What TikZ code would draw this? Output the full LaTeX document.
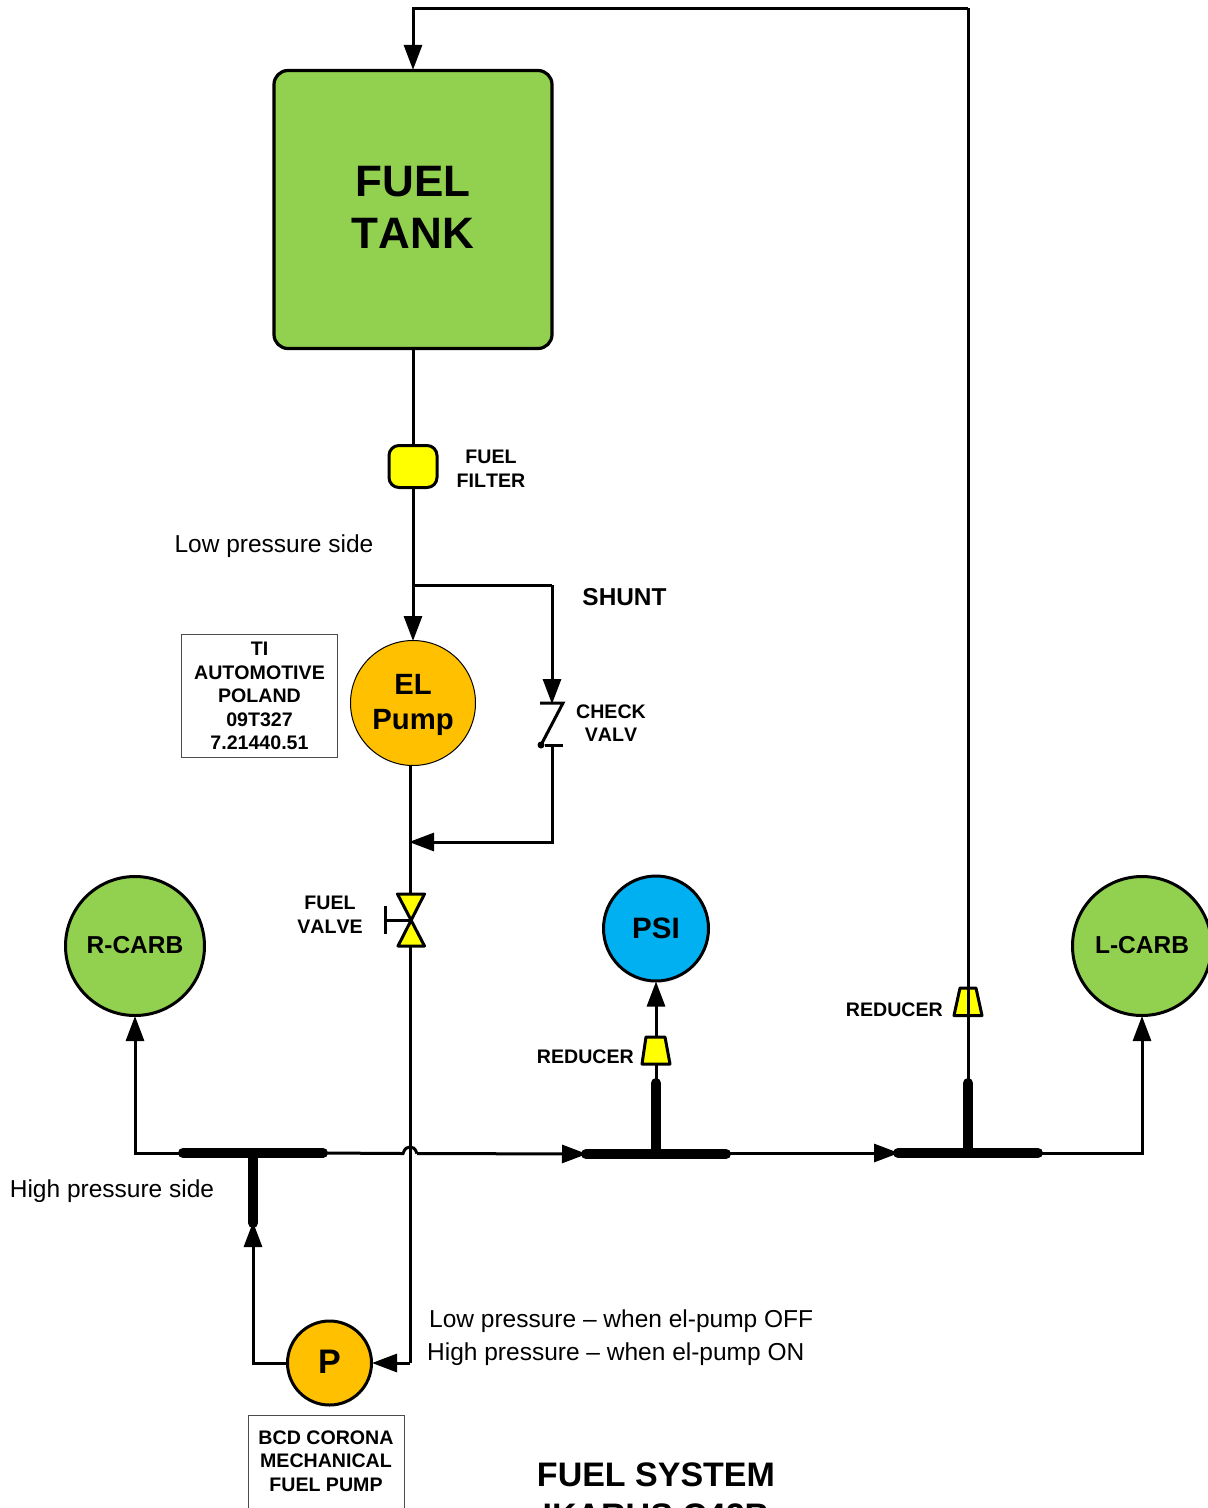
\documentclass[tikz,border=0pt]{standalone}
\usepackage{fontspec}
\setmainfont[Kerning=Off]{Liberation Sans}
\usetikzlibrary{arrows.meta}
\definecolor{fgreen}{HTML}{92D050}
\definecolor{forange}{HTML}{FFC000}
\definecolor{fblue}{HTML}{00B0F0}
\definecolor{fyellow}{HTML}{FFFF00}
\newcommand{\fs}[2]{\fontsize{#1pt}{#2pt}\selectfont}
\tikzset{
  x=1pt,y=-1pt,
  pipe/.style={draw=black,line width=3pt},
  flow/.style={pipe,shorten >=-1pt,-{Triangle[length=25pt,width=18pt]}},
  bus/.style={draw=black,line width=10pt,line cap=round},
  circ/.style={circle,draw=black,inner sep=0pt,align=center,font=\bfseries},
  lab/.style={inner sep=0pt,align=center,font=\bfseries\fs{19.6}{23.5}},
  plain/.style={inner sep=0pt,font=\fs{24.5}{30}},
  infobox/.style={draw=black!70,line width=1pt,fill=white,inner sep=0pt,align=center,font=\bfseries\fs{19.6}{23.4}},
  part/.style={draw=black,line width=3pt,fill=fyellow,line join=round},
}
\begin{document}
\begin{tikzpicture}
\useasboundingbox (0,0) rectangle (1208,1508);
% nodes
\node[draw=black,line width=3.2pt,fill=fgreen,rounded corners=14pt,minimum width=278pt,minimum height=278pt,inner sep=0pt,align=center,font=\bfseries\fs{44}{52}] (tank) at (413,209.5) {FUEL\\TANK\rule[-4pt]{0pt}{4pt}};
\node[draw=black,line width=3pt,fill=fyellow,rounded corners=10pt,minimum width=48pt,minimum height=42pt,inner sep=0pt] (filter) at (413,466.5) {};
\node[lab] (filterlab) at (491,468.5) {FUEL\\FILTER};
\node[plain] (lowside) at (274,546.5) {Low pressure side};
\node[inner sep=0pt,font=\bfseries\fs{24.4}{30}] (shuntlab) at (624.5,597.5) {SHUNT};
\node[circ,line width=1pt,fill=forange,minimum size=125pt,font=\bfseries\fs{29.3}{34.5}] (elpump) at (413,703) {\rule{0pt}{24pt}EL\\Pump};
\node[infobox,minimum width=156pt,minimum height=123pt] (tibox) at (259.5,696) {TI\\AUTOMOTIVE\\POLAND\\09T327\\7.21440.51};
\node[lab] (checklab) at (611,723) {CHECK\\VALV};
\coordinate (shuntT) at (413,585);
\coordinate (shuntC) at (552,585);
\coordinate (chkTop) at (552,703);
\coordinate (chkBot) at (552,745);
\coordinate (join) at (410,842);
\coordinate (joinC) at (552,842);
\coordinate (valveT) at (410,894);
\coordinate (valveB) at (410,946);
\coordinate (topR) at (968,8);
\coordinate (topL) at (413,8);
\node[lab] (valvelab) at (330,914.5) {FUEL\\VALVE};
\node[circ,line width=3pt,fill=fgreen,minimum size=139pt,font=\bfseries\fs{24.5}{30}] (rcarb) at (135,946) {\raisebox{1.5pt}{R-CARB}};
\node[circ,line width=3pt,fill=fgreen,minimum size=139pt,font=\bfseries\fs{24.5}{30}] (lcarb) at (1142,946) {\raisebox{1.5pt}{L-CARB}};
\node[circ,line width=3pt,fill=fblue,minimum size=105pt,font=\bfseries\fs{29.5}{34}] (psi) at (656,928.5) {PSI};
\node[circ,line width=3pt,fill=forange,minimum size=84pt,font=\bfseries\fs{34}{40}] (ppump) at (329.5,1363) {\raisebox{2pt}{P}};
\node[infobox,anchor=north,minimum width=156pt,minimum height=120pt] (bcd) at (326,1415) {};
\node[lab] (bcdlab) at (326,1461) {BCD CORONA\\MECHANICAL\\FUEL PUMP};
\node[plain] (highside) at (112,1191.5) {High pressure side};
\node[plain,anchor=west] (lowwhen) at (429,1321) {Low pressure -- when el-pump OFF};
\node[plain,anchor=west] (highwhen) at (427,1354) {High pressure -- when el-pump ON};
\node[lab,anchor=east] (red1) at (634,1056.5) {REDUCER};
\node[lab,anchor=east] (red2) at (943,1009.5) {REDUCER};
\node[inner sep=0pt,align=center,font=\bfseries\fs{34}{41}] (title) at (656,1495) {FUEL SYSTEM\\IKARUS C42B};
% bus bars
\coordinate (b1L) at (183,1153); \coordinate (b1R) at (323,1153); \coordinate (b1M) at (253,1153); \coordinate (b1B) at (253,1223);
\coordinate (b2L) at (586,1154); \coordinate (b2R) at (726,1154); \coordinate (b2M) at (656,1154); \coordinate (b2T) at (656,1083);
\coordinate (b3L) at (898,1153); \coordinate (b3R) at (1038,1153); \coordinate (b3M) at (968,1153); \coordinate (b3T) at (968,1083);
\coordinate (b2Rout) at (726,1153);
\coordinate (humpL) at (403,1153.5); \coordinate (humpR) at (417,1153.5);
\coordinate (pin) at (410,1363);
\coordinate (ppL) at (253,1363);
\coordinate (rT) at (135,1153); \coordinate (lT) at (1142,1153);
% pipes
\draw[flow] (topR) -- (topL) -- (tank.north);
\draw[pipe] (tank.south) -- (filter.north);
\draw[flow] (filter.south) -- (elpump.north);
\draw[pipe] (shuntT) -- (shuntC);
\draw[flow] (shuntC) -- (chkTop);
\coordinate (chkDot) at (541,745);
\draw[pipe] (540,703) -- (563,703) -- (chkDot);
\fill (chkDot) circle (3.5pt);
\draw[pipe] (545,745) -- (563,745);
\draw[flow] (chkBot) -- (joinC) -- (join);
\draw[pipe] (elpump.south -| join) -- (valveT);
\draw[pipe] (valveB) -- (pin);
\draw[flow] (pin) -- (ppump.east);
\draw[part] (397.5,894) -- (424.5,894) -- (398,946) -- (424.5,946) -- cycle;
\draw[pipe] (411,920) -- (385,920);
\draw[pipe] (385,906) -- (385,934);
\draw[flow] (ppump.west) -- (ppL) -- (b1B);
\draw[flow] (b1L) -- (rT) -- (rcarb.south);
\draw[flow] (b3R) -- (lT) -- (lcarb.south);
\draw[flow] (b2Rout) -- (b3L);
\draw[pipe] (b1R) -- (humpL) .. controls (405,1148) and (407,1147) .. (410,1147) .. controls (413,1147) and (415,1148) .. (humpR);
\draw[flow] (humpR) -- (b2L);
\draw[bus] (b1L) -- (b1R);
\draw[bus] (b1M) -- (b1B);
\draw[bus] (b2L) -- (b2R);
\draw[bus] (b2M) -- (b2T);
\draw[bus] (b3L) -- (b3R);
\draw[bus] (b3M) -- (b3T);
% reducers
\draw[flow] (b2T) -- (psi.south);
\draw[part] (646,1037) -- (665,1037) -- (670,1064) -- (642,1064) -- cycle;
\draw[part] (960,988) -- (976,988) -- (982,1015.5) -- (954,1015.5) -- cycle;
\draw[pipe] (b3T) -- (topR);
\end{tikzpicture}
\end{document}
